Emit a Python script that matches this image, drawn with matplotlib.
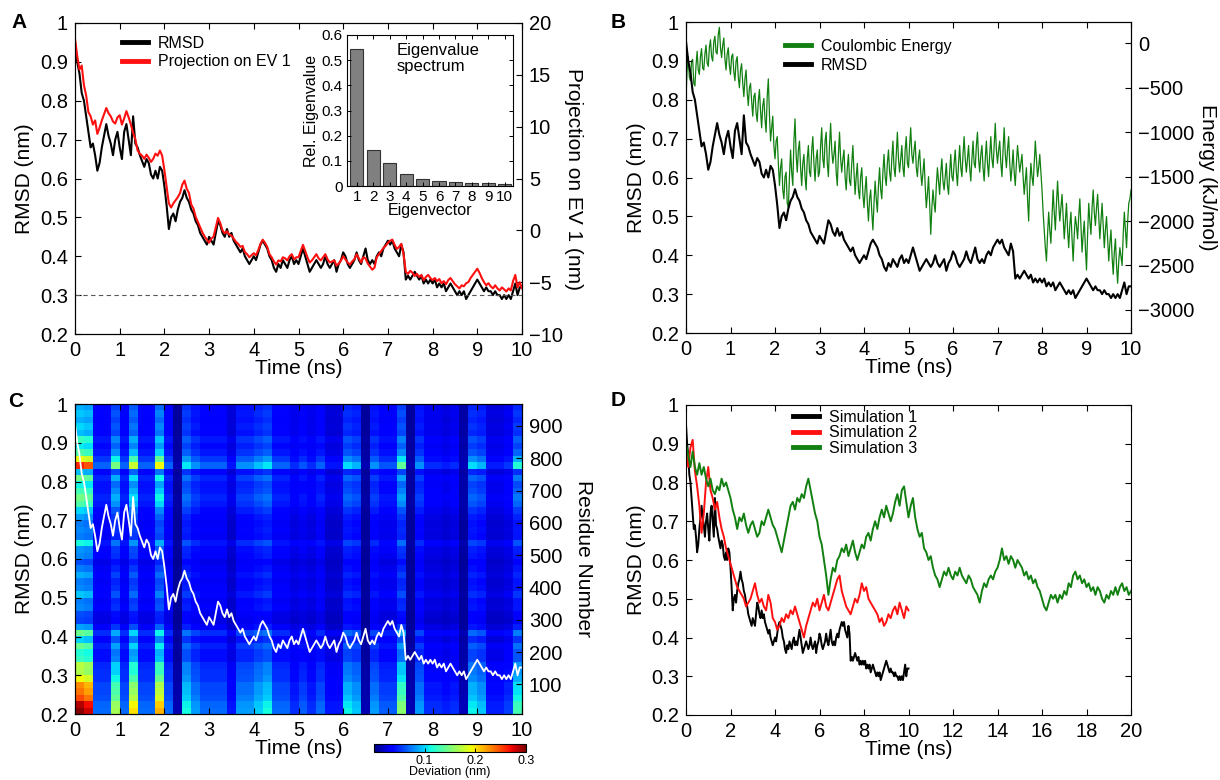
import numpy as np
import matplotlib
matplotlib.use("Agg")
import matplotlib.pyplot as plt
from matplotlib.lines import Line2D
from matplotlib.ticker import FuncFormatter

plt.rcParams['font.family'] = ['Liberation Sans', 'DejaVu Sans']

# ---------------- data ----------------
DT = 0.05          # ns, sampling of the 10 ns RMSD / projection traces
DT_E = 0.025       # ns, sampling of the energy trace
DT_D = 0.1         # ns, sampling of simulations 2 and 3

rmsd = [0.95,0.90,0.87,0.82,0.80,0.76,0.72,0.68,0.69,0.66,
        0.62,0.64,0.68,0.71,0.74,0.71,0.69,0.66,0.70,0.72,
        0.68,0.65,0.72,0.74,0.70,0.66,0.76,0.69,0.68,0.66,
        0.645,0.63,0.65,0.64,0.61,0.60,0.62,0.60,0.63,0.62,
        0.58,0.53,0.47,0.50,0.51,0.49,0.52,0.54,0.55,0.57,
        0.55,0.54,0.52,0.51,0.49,0.48,0.46,0.45,0.44,0.43,
        0.45,0.44,0.43,0.46,0.49,0.48,0.46,0.45,0.47,0.45,
        0.46,0.44,0.43,0.42,0.41,0.42,0.40,0.39,0.38,0.39,
        0.40,0.39,0.41,0.43,0.44,0.43,0.42,0.40,0.39,0.37,
        0.36,0.38,0.37,0.39,0.38,0.37,0.39,0.40,0.38,0.39,
        0.38,0.40,0.42,0.40,0.38,0.36,0.37,0.38,0.39,0.38,
        0.37,0.38,0.40,0.38,0.37,0.38,0.39,0.36,0.38,0.39,
        0.41,0.40,0.38,0.37,0.38,0.39,0.41,0.39,0.38,0.40,
        0.42,0.39,0.38,0.39,0.38,0.40,0.41,0.40,0.42,0.43,
        0.44,0.43,0.44,0.42,0.41,0.40,0.43,0.41,0.34,0.35,
        0.34,0.35,0.36,0.35,0.34,0.35,0.33,0.34,0.33,0.34,
        0.33,0.34,0.32,0.33,0.32,0.33,0.31,0.32,0.33,0.32,
        0.31,0.30,0.31,0.30,0.31,0.29,0.30,0.31,0.32,0.33,
        0.34,0.33,0.32,0.31,0.32,0.31,0.31,0.30,0.31,0.30,
        0.30,0.29,0.30,0.29,0.30,0.29,0.31,0.33,0.30,0.32,
        0.32]

projection = [18.5,16.8,15.5,15.9,14.0,13.0,11.4,11.0,10.2,10.6,
              9.3,9.9,10.6,11.2,11.8,11.3,11.0,10.5,10.3,10.9,
              11.1,10.2,10.8,11.5,10.9,10.2,9.4,8.8,7.7,7.4,
              7.2,6.9,7.3,7.0,6.6,6.9,7.4,7.2,7.7,7.2,
              5.8,4.2,2.6,2.2,2.6,2.9,3.2,3.6,4.4,4.8,
              4.0,3.6,2.5,2.1,1.3,0.8,0.3,-0.2,-0.6,-0.9,
              -1.2,-0.8,-0.6,0.3,1.2,0.7,0.0,-0.3,-0.1,-0.4,
              -0.5,-0.8,-1.1,-1.3,-1.6,-1.5,-2.1,-2.3,-2.6,-2.4,
              -2.2,-2.4,-1.9,-1.3,-0.9,-1.2,-1.6,-2.3,-2.6,-3.0,
              -3.3,-2.9,-3.0,-2.6,-2.7,-2.9,-2.5,-2.3,-2.8,-2.6,
              -2.6,-2.0,-1.4,-2.0,-2.6,-3.1,-2.9,-2.6,-2.3,-2.7,
              -2.9,-2.6,-2.3,-2.8,-3.1,-3.0,-2.9,-3.4,-3.2,-2.9,
              -2.5,-2.8,-3.1,-3.3,-3.0,-2.8,-2.3,-2.7,-3.1,-2.6,
              -2.7,-3.2,-3.5,-3.8,-3.6,-2.6,-2.3,-2.0,-1.7,-1.5,
              -1.2,-1.0,-0.9,-1.4,-1.8,-1.6,-1.3,-2.3,-4.0,-4.2,
              -3.9,-4.1,-4.4,-4.2,-4.5,-4.3,-4.8,-4.5,-4.3,-4.6,
              -4.8,-4.6,-4.9,-4.7,-5.1,-4.9,-5.2,-4.8,-4.6,-4.9,
              -5.2,-5.4,-5.6,-5.3,-5.4,-5.1,-5.0,-4.6,-4.3,-4.0,
              -3.7,-4.1,-4.6,-5.0,-5.3,-5.1,-5.4,-5.6,-5.3,-5.6,
              -5.8,-5.5,-5.7,-5.9,-5.6,-5.8,-4.9,-4.3,-5.5,-5.0,
              -5.6]

eig_index = [1, 2, 3, 4, 5, 6, 7, 8, 9, 10]
eig_values = [0.543, 0.142, 0.092, 0.046, 0.028, 0.020, 0.015, 0.012, 0.011, 0.007]

energy = [-600,-300,-150,-380,-420,-200,-180,-450,-480,-250,-90,-300,-350,-150,-60,-280,-300,-120,-20,-220,
          -260,-50,40,-150,-200,20,80,-100,-120,100,180,-50,-160,-20,60,-180,-300,-120,-50,-250,
          -350,-150,-120,-320,-420,-200,-150,-380,-500,-300,-230,-450,-600,-400,-300,-550,-700,-500,-450,-650,
          -820,-600,-560,-780,-880,-650,-520,-760,-950,-700,-620,-850,-1000,-600,-400,-800,-1100,-950,-820,-1150,
          -1300,-1100,-1050,-1350,-1600,-1400,-1300,-1650,-1750,-1500,-1450,-1800,-1850,-1500,-1200,-1450,-1600,-1100,-850,-1250,
          -1450,-1200,-1100,-1400,-1600,-1350,-1250,-1500,-1650,-1300,-1150,-1450,-1500,-1200,-1050,-1350,-1550,-1300,-1200,-1500,
          -1450,-1150,-950,-1300,-1400,-1100,-1000,-1350,-1500,-1150,-900,-1200,-1350,-1250,-1100,-1450,-1600,-1250,-1000,-1300,
          -1450,-1300,-1200,-1500,-1650,-1400,-1250,-1550,-1600,-1350,-1150,-1450,-1700,-1500,-1350,-1650,-1750,-1500,-1400,-1700,
          -1850,-1650,-1500,-1800,-2000,-1750,-1650,-1900,-2100,-1800,-1550,-1750,-1900,-1600,-1400,-1650,-1750,-1450,-1250,-1500,
          -1600,-1350,-1200,-1450,-1550,-1300,-1100,-1400,-1500,-1250,-1000,-1300,-1450,-1300,-1150,-1400,-1500,-1200,-1050,-1350,
          -1400,-1150,-950,-1250,-1350,-1200,-1100,-1400,-1500,-1300,-1200,-1450,-1600,-1450,-1300,-1600,-1850,-1700,-1500,-1800,
          -2150,-1850,-1650,-1800,-1900,-1600,-1400,-1550,-1700,-1450,-1300,-1550,-1650,-1500,-1350,-1600,-1700,-1450,-1250,-1500,
          -1550,-1350,-1200,-1450,-1600,-1350,-1150,-1400,-1500,-1250,-1050,-1300,-1450,-1300,-1150,-1400,-1550,-1300,-1100,-1350,
          -1400,-1150,-1000,-1300,-1450,-1250,-1150,-1400,-1550,-1300,-1100,-1350,-1500,-1250,-1050,-1300,-1400,-1150,-900,-1200,
          -1350,-1200,-1100,-1350,-1500,-1200,-950,-1250,-1400,-1200,-1050,-1350,-1550,-1400,-1200,-1450,-1600,-1350,-1150,-1300,
          -1450,-1350,-1250,-1500,-1700,-1550,-1400,-1750,-2000,-1600,-1350,-1500,-1600,-1350,-1100,-1300,-1500,-1400,-1250,-1450,
          -1650,-1900,-2100,-2300,-2450,-2150,-1900,-2100,-2250,-1950,-1650,-1900,-2100,-1800,-1550,-1800,-2000,-1850,-1700,-1950,
          -2200,-2000,-1800,-2100,-2300,-2050,-1900,-2200,-2450,-2150,-1950,-2050,-2200,-1950,-1750,-2050,-2350,-2150,-2000,-2300,
          -2550,-2150,-1800,-2000,-2150,-1850,-1650,-1900,-2050,-1850,-1700,-1950,-2200,-2000,-1800,-2050,-2300,-2100,-1950,-2200,
          -2450,-2250,-2100,-2400,-2600,-2350,-2200,-2500,-2700,-2450,-2300,-2400,-2500,-2150,-1900,-2100,-2300,-2000,-1800,-1750,
          -1650]

# deviation map: per 0.2 ns time bin a base level and a "mobile region" level,
# per 20-residue bin a base profile and a mobility weight
dev_time_base = [0.075,0.072,0.035,0.035,0.05,0.035,0.055,0.035,0.035,0.06,
                 0.035,0.008,0.048,0.04,0.035,0.035,0.035,0.022,0.04,0.04,
                 0.045,0.048,0.035,0.035,0.028,0.032,0.028,0.035,0.022,0.022,
                 0.045,0.042,0.008,0.04,0.032,0.032,0.05,0.008,0.04,0.028,
                 0.028,0.024,0.028,0.01,0.045,0.042,0.024,0.024,0.028,0.045]
dev_time_mobile = [0.215,0.2,0.03,0.03,0.11,0.03,0.14,0.03,0.03,0.15,
                   0.03,0.005,0.06,0.04,0.03,0.03,0.03,0.02,0.04,0.04,
                   0.05,0.06,0.03,0.03,0.02,0.03,0.02,0.03,0.02,0.02,
                   0.06,0.05,0.005,0.04,0.03,0.03,0.1,0.005,0.04,0.02,
                   0.02,0.02,0.02,0.005,0.06,0.05,0.02,0.02,0.025,0.08]
dev_residue_base = [1.1,1.1,1.05,1.0,1.05,1.0,1.1,1.0,0.95,1.0,
                    1.05,0.9,1.2,0.85,0.75,0.8,0.9,0.85,1.0,0.9,
                    0.85,0.95,0.85,0.8,0.9,0.95,1.1,0.85,0.9,0.85,
                    0.9,1.0,1.05,1.1,1.0,1.05,1.1,0.95,1.2,1.1,
                    1.05,1.0,1.1,0.95,1.0,0.95,1.0,0.95]
dev_residue_mobility = [1.0,0.95,0.8,0.75,0.7,0.55,0.4,0.45,0.25,0.2,
                        0.3,0.15,0.25,0.1,0.0,0.0,0.05,0.05,0.1,0.05,
                        0.05,0.08,0.05,0.0,0.05,0.05,0.15,0.05,0.05,0.05,
                        0.08,0.12,0.25,0.3,0.25,0.15,0.3,0.1,0.8,0.5,
                        0.25,0.15,0.2,0.1,0.12,0.08,0.1,0.08]
residue_range = (8, 968)
time_range = (0, 10)

sim2 = [0.88,0.84,0.89,0.91,0.83,0.79,0.74,0.67,0.72,0.80,
        0.84,0.78,0.76,0.73,0.75,0.71,0.68,0.66,0.63,0.61,
        0.59,0.57,0.55,0.53,0.52,0.51,0.50,0.48,0.49,0.50,
        0.52,0.54,0.51,0.49,0.50,0.48,0.47,0.51,0.49,0.45,
        0.44,0.42,0.43,0.45,0.44,0.46,0.45,0.47,0.46,0.48,
        0.46,0.44,0.42,0.40,0.43,0.45,0.47,0.49,0.48,0.50,
        0.47,0.49,0.51,0.48,0.47,0.49,0.51,0.53,0.55,0.56,
        0.52,0.50,0.48,0.47,0.46,0.48,0.50,0.49,0.51,0.54,
        0.52,0.53,0.50,0.49,0.48,0.47,0.46,0.44,0.45,0.43,
        0.44,0.46,0.45,0.47,0.48,0.46,0.49,0.47,0.45,0.48,
        0.47]

sim3 = [0.90,0.87,0.84,0.88,0.84,0.82,0.85,0.82,0.84,0.81,
        0.79,0.81,0.78,0.77,0.79,0.78,0.81,0.79,0.80,0.78,
        0.76,0.73,0.71,0.68,0.71,0.70,0.72,0.69,0.67,0.69,
        0.70,0.68,0.66,0.67,0.70,0.69,0.71,0.73,0.71,0.69,
        0.68,0.66,0.64,0.62,0.65,0.68,0.71,0.74,0.75,0.73,
        0.76,0.75,0.77,0.76,0.79,0.81,0.78,0.75,0.72,0.70,
        0.66,0.64,0.60,0.56,0.51,0.55,0.58,0.57,0.60,0.61,
        0.63,0.62,0.64,0.61,0.63,0.65,0.62,0.60,0.62,0.64,
        0.63,0.66,0.67,0.65,0.68,0.70,0.68,0.71,0.73,0.71,
        0.74,0.72,0.70,0.72,0.75,0.77,0.74,0.78,0.79,0.75,
        0.71,0.74,0.76,0.71,0.68,0.66,0.67,0.63,0.62,0.60,
        0.61,0.58,0.56,0.55,0.53,0.55,0.57,0.56,0.58,0.56,
        0.55,0.57,0.56,0.58,0.56,0.55,0.54,0.56,0.55,0.53,
        0.52,0.51,0.49,0.52,0.54,0.53,0.55,0.56,0.55,0.57,
        0.58,0.60,0.63,0.60,0.61,0.59,0.61,0.60,0.58,0.60,
        0.59,0.58,0.56,0.57,0.55,0.56,0.54,0.55,0.53,0.52,
        0.50,0.48,0.47,0.49,0.51,0.50,0.51,0.49,0.51,0.50,
        0.52,0.51,0.54,0.53,0.56,0.57,0.55,0.56,0.54,0.55,
        0.53,0.54,0.52,0.53,0.51,0.53,0.52,0.50,0.49,0.51,
        0.50,0.52,0.51,0.53,0.51,0.53,0.54,0.52,0.53,0.51,
        0.52]

rmsd_threshold = 0.3
rmsd_ticks = [0.2, 0.3, 0.4, 0.5, 0.6, 0.7, 0.8, 0.9, 1.0]
proj_ticks = [-10, -5, 0, 5, 10, 15, 20]
energy_ticks = [0, -500, -1000, -1500, -2000, -2500, -3000]
residue_ticks = [100, 200, 300, 400, 500, 600, 700, 800, 900]
cbar_ticks = [0.1, 0.2, 0.3]

# ---------------- styling helpers ----------------
W, H = 1220, 780
TICK_FS, LABEL_FS, LEG_FS, INSET_FS, CB_FS = 14.5, 15, 11.5, 11, 9
GREEN = '#118011'
RED = '#ff1010'
fmt = FuncFormatter(lambda v, p: f'{v:g}'.replace('-', '\u2212'))


def rect(l, t, r, b):
    return [l / W, 1 - b / H, (r - l) / W, (b - t) / H]


def style(ax, fs=TICK_FS, **kw):
    ax.tick_params(direction='in', length=4, width=0.8, labelsize=fs, pad=5, **kw)
    for s in ax.spines.values():
        s.set_linewidth(0.8)


def legend(ax, handles, labels, x, y, spacing):
    ax.legend(handles, labels, loc='upper left', bbox_to_anchor=(x / W, 1 - y / H),
              bbox_transform=fig.transFigure, frameon=False, fontsize=LEG_FS,
              handlelength=1.65, handletextpad=0.6, borderpad=0, borderaxespad=0,
              labelspacing=spacing)


fig = plt.figure(figsize=(12.2, 7.8), dpi=100)

t10 = np.arange(len(rmsd)) * DT

# ---------------- Panel A ----------------
axA = fig.add_axes(rect(75, 23, 522, 334))
axA.plot(t10, rmsd, color='k', lw=1.5)
axA.axhline(rmsd_threshold, color='0.35', lw=0.8, ls=(0, (4, 3)))
axA.set_xlim(0, 10)
axA.set_ylim(0.2, 1.0)
axA.set_xticks(range(0, 11))
axA.set_yticks(rmsd_ticks)
axA.yaxis.set_major_formatter(fmt)
axA.set_xlabel('Time (ns)', fontsize=LABEL_FS, labelpad=-1)
axA.set_ylabel('RMSD (nm)', fontsize=LABEL_FS, labelpad=4)
style(axA, top=True, right=False)
axA2 = axA.twinx()
axA2.plot(np.arange(len(projection)) * DT, projection, color=RED, lw=1.5)
axA2.set_ylim(-10, 20)
axA2.set_yticks(proj_ticks)
axA2.yaxis.set_major_formatter(fmt)
axA2.set_ylabel('Projection on EV 1 (nm)', fontsize=LABEL_FS, rotation=270,
                va='bottom', labelpad=1)
style(axA2)
legend(axA2, [Line2D([], [], color='k', lw=3.5), Line2D([], [], color=RED, lw=3.5)],
       ['RMSD', 'Projection on EV 1'], 122, 36, 0.2)

# inset eigenvalue spectrum
axI = fig.add_axes(rect(347, 35, 513, 186))
axI.bar(eig_index, eig_values, width=0.8, color='0.5', edgecolor='0.2', lw=0.8)
axI.set_xlim(0.4, 10.5)
axI.set_ylim(0, 0.6)
axI.set_xticks(eig_index)
axI.set_yticks([0, 0.1, 0.2, 0.3, 0.4, 0.5, 0.6])
axI.yaxis.set_major_formatter(fmt)
axI.tick_params(direction='in', length=3, width=0.7, labelsize=INSET_FS, pad=3,
                top=True, right=True)
for s in axI.spines.values():
    s.set_linewidth(0.8)
axI.set_xlabel('Eigenvector', fontsize=INSET_FS + 0.5, labelpad=-1)
axI.set_ylabel('Rel. Eigenvalue', fontsize=INSET_FS + 0.5, labelpad=2)
axI.text(0.30, 0.95, 'Eigenvalue\nspectrum', transform=axI.transAxes, ha='left',
         va='top', fontsize=INSET_FS + 1, linespacing=1.15)

# ---------------- Panel B ----------------
axB = fig.add_axes(rect(686, 22, 1131, 333))
axB.plot(t10, rmsd, color='k', lw=1.5)
axB.set_xlim(0, 10)
axB.set_ylim(0.2, 1.0)
axB.set_xticks(range(0, 11))
axB.set_yticks(rmsd_ticks)
axB.yaxis.set_major_formatter(fmt)
axB.set_xlabel('Time (ns)', fontsize=LABEL_FS, labelpad=-1)
axB.set_ylabel('RMSD (nm)', fontsize=LABEL_FS, labelpad=4)
style(axB, top=True, right=False)
axB2 = axB.twinx()
axB2.plot(np.arange(len(energy)) * DT_E, energy, color=GREEN, lw=0.9)
axB2.set_ylim(-3260, 240)
axB2.set_yticks(energy_ticks)
axB2.yaxis.set_major_formatter(fmt)
axB2.set_ylabel('Energy (kJ/mol)', fontsize=LABEL_FS, rotation=270, va='bottom', labelpad=3)
style(axB2)
axB2.set_zorder(axB.get_zorder() - 1)
axB.patch.set_visible(False)
legend(axB, [Line2D([], [], color=GREEN, lw=3.5), Line2D([], [], color='k', lw=3.5)],
       ['Coulombic Energy', 'RMSD'], 785, 39, 0.25)

# ---------------- Panel C ----------------
axC = fig.add_axes(rect(75, 404, 522, 714))
dev = (np.outer(dev_residue_base, dev_time_base)
       + np.outer(dev_residue_mobility, dev_time_mobile))
time_edges = np.linspace(time_range[0], time_range[1], len(dev_time_base) + 1)
res_edges = np.linspace(residue_range[0], residue_range[1], len(dev_residue_base) + 1)
mesh = axC.pcolormesh(time_edges, res_edges, dev, cmap='jet', vmin=0, vmax=0.3,
                      shading='flat')
axC.set_xlim(0, 10)
axC.set_ylim(*residue_range)
axC.set_xticks(range(0, 11))
axC.set_xlabel('Time (ns)', fontsize=LABEL_FS, labelpad=-1)
axC2 = axC.twinx()
axC2.plot(t10, rmsd, color='white', lw=1.3)
axC2.set_ylim(0.2, 1.0)
axC2.set_yticks(rmsd_ticks)
axC2.yaxis.set_major_formatter(fmt)
axC2.yaxis.tick_left()
axC2.yaxis.set_label_position('left')
axC2.set_ylabel('RMSD (nm)', fontsize=LABEL_FS, labelpad=4)
style(axC2, left=True, right=False, labelleft=True, labelright=False)
# residue axis on the right (set after twinx, which resets it)
axC.yaxis.tick_right()
axC.yaxis.set_label_position('right')
axC.set_yticks(residue_ticks)
axC.set_ylabel('Residue Number', fontsize=LABEL_FS, rotation=270, va='bottom', labelpad=8)
style(axC, top=True, left=False, right=True, labelleft=False, labelright=True)

cax = fig.add_axes(rect(374, 744, 526, 752))
cb = fig.colorbar(mesh, cax=cax, orientation='horizontal', ticks=cbar_ticks)
cb.ax.tick_params(labelsize=CB_FS, direction='in', length=3, width=0.7, pad=2)
cb.outline.set_linewidth(0.8)
cb.set_label('Deviation (nm)', fontsize=CB_FS, labelpad=-0.5)

# ---------------- Panel D ----------------
axD = fig.add_axes(rect(686, 405, 1131, 715))
axD.plot(t10, rmsd, color='k', lw=1.4)
axD.plot(np.arange(len(sim2)) * DT_D, sim2, color=RED, lw=1.4)
axD.plot(np.arange(len(sim3)) * DT_D, sim3, color=GREEN, lw=1.4)
axD.set_xlim(0, 20)
axD.set_ylim(0.2, 1.0)
axD.set_xticks(range(0, 21, 2))
axD.set_yticks(rmsd_ticks)
axD.yaxis.set_major_formatter(fmt)
axD.set_xlabel('Time (ns)', fontsize=LABEL_FS, labelpad=-1)
axD.set_ylabel('RMSD (nm)', fontsize=LABEL_FS, labelpad=4)
style(axD, top=True, right=True)
legend(axD, [Line2D([], [], color=c, lw=3.5) for c in ('k', RED, GREEN)],
       ['Simulation 1', 'Simulation 2', 'Simulation 3'], 793, 410, 0.02)

# panel letters
for letter, (x, y) in {'A': (19, 23), 'B': (618, 23), 'C': (16, 402), 'D': (618, 401)}.items():
    fig.text(x / W, 1 - y / H, letter, fontsize=15, fontweight='bold', ha='center', va='center')

fig.savefig('out.png', dpi=100)
